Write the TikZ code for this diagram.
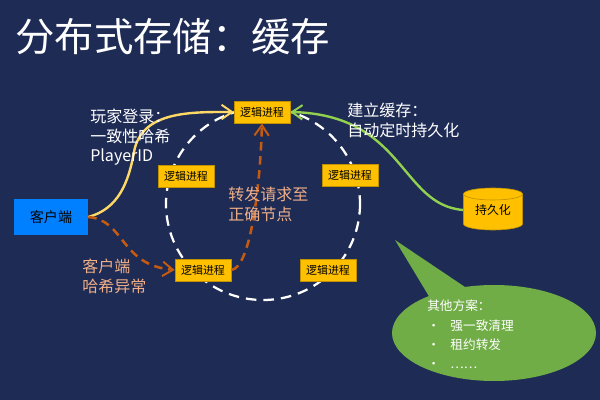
\documentclass[tikz,border=0pt]{standalone}
\usepackage{fontspec}
\setmainfont{Noto Sans CJK SC}
\usetikzlibrary{arrows.meta}

\definecolor{bgnavy}{RGB}{30,43,85}
\definecolor{clientblue}{RGB}{0,128,255}
\definecolor{procyellow}{RGB}{255,192,0}
\definecolor{procedge}{RGB}{191,144,0}
\definecolor{loginyellow}{RGB}{255,217,102}
\definecolor{hashorange}{RGB}{197,90,17}
\definecolor{notesalmon}{RGB}{240,175,135}
\definecolor{cachegreen}{RGB}{146,208,80}
\definecolor{plangreen}{RGB}{112,173,71}

\tikzset{
  proc/.style={fill=procyellow, draw=procedge, line width=0.4pt, minimum width=1.4cm,
    minimum height=0.56cm, inner sep=1pt, font=\fontsize{7.8}{9}\selectfont, text=black},
  note/.style={anchor=north west, align=left, inner sep=0pt,
    font=\fontsize{11.4}{13.8}\selectfont},
  barb/.style={-{Straight Barb[length=2.6mm,width=3.6mm,line width=1.4pt]}}
}

\begin{document}
\begin{tikzpicture}[x=0.025cm, y=-0.025cm]
            % Background
            \fill[bgnavy] (0,0) rectangle (600,400);
            \useasboundingbox (0,0) rectangle (600,400);

            % Title
            \node[anchor=west, text=white, inner sep=0pt, font=\fontsize{28}{30}\selectfont] (title) at (15,37) {分布式存储：缓存};

            % Ring of logic processes
            \draw[white, line width=1.6pt, dash pattern=on 7.5pt off 5pt] (263,204) ellipse (97 and 96);

            \node[proc] (ptop) at (262,112) {逻辑进程};
            \node[proc] (pleft) at (186,176) {逻辑进程};
            \node[proc] (pright) at (350,175) {逻辑进程};
            \node[proc] (pbl) at (203,270) {逻辑进程};
            \node[proc] (pbr) at (328,270) {逻辑进程};

            % Client
            \node[fill=clientblue, minimum width=1.85cm, minimum height=0.875cm, inner sep=1pt,
              font=\fontsize{10}{12}\selectfont] (client) at (51,217) {客户端};

            % Persistent store (cylinder)
            \fill[procyellow] (463.5,194) rectangle (522.5,224);
            \fill[procyellow] (493,224) ellipse (29.5 and 6);
            \draw[procedge, line width=0.4pt] (463.5,194) -- (463.5,224) arc[start angle=180, end angle=360, x radius=29.5, y radius=-6] -- (522.5,194);
            \draw[procedge, line width=0.4pt, fill=procyellow] (493,194) ellipse (29.5 and 6);
            \node[minimum width=1.475cm, minimum height=1.0cm, inner sep=0pt,
              font=\fontsize{8.5}{10}\selectfont] (store) at (493,210) {\raisebox{-1.5pt}{持久化}};

            % Login: consistent hash
            \draw[loginyellow, line width=1.7pt, barb] (client.east) to[out=15, in=-100] (134,152) to[out=80, in=180] (ptop.west);

            % Hash miss on the client
            \draw[hashorange, line width=1.8pt, dash pattern=on 6pt off 4pt, barb] (client.east) .. controls (125,220) and (120,265) .. (pbl.west);

            % Forward to the right node
            \draw[hashorange, line width=1.8pt, dash pattern=on 6pt off 4pt, barb] (pbl.east) .. controls (250,268) and (260,190) .. (ptop.south);

            % Cache write-back
            \draw[cachegreen, line width=1.7pt, barb] (store.west) .. controls (400,205) and (405,115) .. (ptop.east);

            % Labels
            \node[note, text=white] (login) at (90,109) {玩家登录：\\一致性哈希\\PlayerID};
            \node[note, text=white] (cache) at (347,103) {建立缓存：\\自动定时持久化};
            \node[note, text=notesalmon] (forward) at (228,187) {转发请求至\\正确节点};
            \node[note, text=notesalmon] (miss) at (82,259) {客户端\\哈希异常};

            % Other plans (callout)
            \fill[plangreen] (395,240) -- (430,298) -- (468,289) -- cycle;
            \fill[plangreen] (494,333) ellipse (102 and 48);
            \node[anchor=north west, align=left, inner sep=0pt, text=white,
              font=\fontsize{9}{13.6}\selectfont] (plan) at (427,300)
              {其他方案：\\
               \makebox[16.5pt][l]{·}强一致清理\\
               \makebox[16.5pt][l]{·}租约转发\\
               \makebox[16.5pt][l]{·}……};

\end{tikzpicture}
\end{document}
